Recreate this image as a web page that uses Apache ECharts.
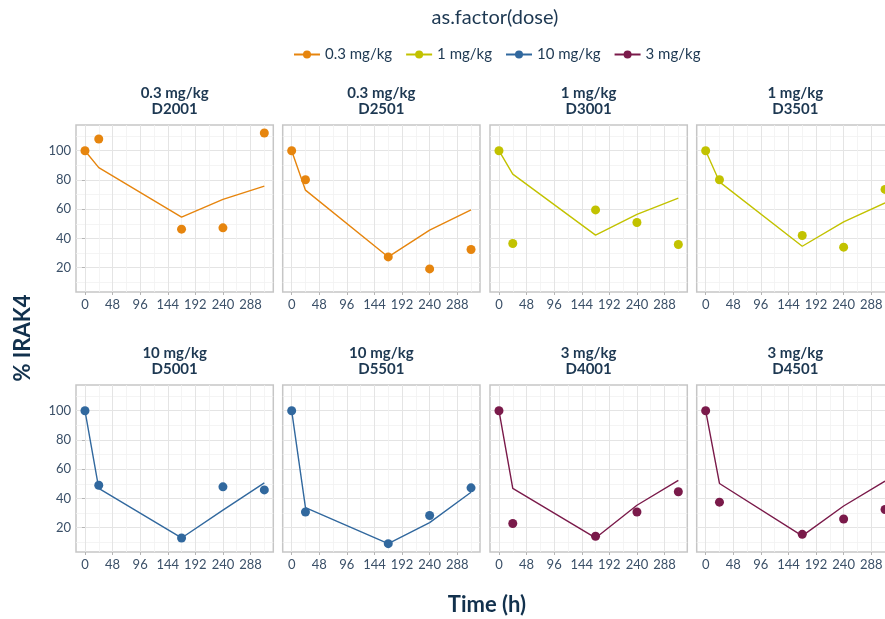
<!DOCTYPE html>
<html>
<head>
<meta charset="utf-8">
<script src="https://cdn.jsdelivr.net/npm/echarts@6/dist/echarts.min.js"></script>
<style>
html,body{margin:0;padding:0;background:#fff;}
#chart{width:885px;height:619px;}
</style>
</head>
<body>
<div id="chart"></div>
<script>
// ---- data ----
const times = [0, 24, 168, 240, 312];
const subjects = ['D2001', 'D2501', 'D3001', 'D3501', 'D5001', 'D5501', 'D4001', 'D4501'];
const subjectDose = ['0.3 mg/kg', '0.3 mg/kg', '1 mg/kg', '1 mg/kg', '10 mg/kg', '10 mg/kg', '3 mg/kg', '3 mg/kg'];
const doseLevels = ['0.3 mg/kg', '1 mg/kg', '10 mg/kg', '3 mg/kg'];

const obsD2001 = [100, 108.0, 46.3, 47.2, 112.1];
const obsD2501 = [100, 80.1, 27.3, 19.1, 32.4];
const obsD3001 = [100, 36.5, 59.5, 50.9, 35.8];
const obsD3501 = [100, 80.1, 42.0, 34.0, 73.5];
const obsD5001 = [100, 49.0, 12.9, 47.9, 45.8];
const obsD5501 = [100, 30.7, 9.0, 28.3, 47.2];
const obsD4001 = [100, 22.8, 14.1, 30.7, 44.5];
const obsD4501 = [100, 37.4, 15.4, 25.9, 32.4];

const predD2001 = [100, 88.4, 54.5, 66.7, 75.8];
const predD2501 = [100, 73.0, 27.3, 45.6, 59.5];
const predD3001 = [100, 84.0, 42.2, 56.4, 67.6];
const predD3501 = [100, 78.7, 34.6, 51.3, 64.3];
const predD5001 = [100, 46.8, 12.9, 32.0, 50.6];
const predD5501 = [100, 33.7, 9.0, 23.4, 44.2];
const predD4001 = [100, 46.8, 12.9, 35.3, 52.3];
const predD4501 = [100, 50.2, 14.3, 34.8, 51.8];

const xTicks = [0, 48, 96, 144, 192, 240, 288];
const xMinorTicks = [24, 72, 120, 168, 216, 264, 312];
const yTicks = [20, 40, 60, 80, 100];
const yMinorTicks = [10, 30, 50, 70, 90, 110];

const observed = [obsD2001, obsD2501, obsD3001, obsD3501, obsD5001, obsD5501, obsD4001, obsD4501];
const predicted = [predD2001, predD2501, predD3001, predD3501, predD5001, predD5501, predD4001, predD4501];

// ---- styling ----
const doseColors = {'0.3 mg/kg': '#E6850E', '1 mg/kg': '#C2C200', '10 mg/kg': '#31689E', '3 mg/kg': '#7A1A4A'};
const FONT = 'Lato, "Noto Sans", sans-serif';
const titleColor = '#1d3852';
const tickColor = '#3b5068';
const xRange = [-15.6, 327.6];
const yRange = [3.3, 117.6];
const colLeft = [76, 282.7, 490, 696.7];
const panelW = 197.3;
const rowTop = [125, 385];
const panelH = 167;

const grids = [], xAxes = [], yAxes = [], series = [], graphics = [];

subjects.forEach((subj, i) => {
  const r = Math.floor(i / 4), c = i % 4;
  const dose = subjectDose[i];
  const col = doseColors[dose];
  grids.push({left: colLeft[c], top: rowTop[r], width: panelW, height: panelH,
    show: true, borderColor: '#c6c6c6', borderWidth: 1.5, backgroundColor: '#fff',
    containLabel: false, outerBoundsMode: 'none'});
  // major x axis
  xAxes.push({gridIndex: i, type: 'value', min: xRange[0], max: xRange[1],
    axisLine: {show: false},
    axisTick: {show: true, length: 3, lineStyle: {color: '#b5b5b5'}, customValues: xTicks},
    axisLabel: {show: true, customValues: xTicks, color: tickColor, fontFamily: FONT, fontSize: 13, margin: 6},
    splitLine: {show: true, lineStyle: {color: '#e4e4e4', width: 1}}});
  // minor x axis
  xAxes.push({gridIndex: i, type: 'value', min: xRange[0], max: xRange[1],
    axisLine: {show: false},
    axisTick: {show: false, customValues: xMinorTicks},
    axisLabel: {show: false, customValues: xMinorTicks},
    splitLine: {show: true, lineStyle: {color: '#f1f1f1', width: 0.8}}});
  yAxes.push({gridIndex: i, type: 'value', min: yRange[0], max: yRange[1],
    axisLine: {show: false},
    axisTick: {show: c === 0, length: 3, lineStyle: {color: '#b5b5b5'}, customValues: yTicks},
    axisLabel: {show: c === 0, customValues: yTicks, color: tickColor, fontFamily: FONT, fontSize: 13, margin: 5},
    splitLine: {show: true, lineStyle: {color: '#e4e4e4', width: 1}}});
  yAxes.push({gridIndex: i, type: 'value', min: yRange[0], max: yRange[1],
    axisLine: {show: false},
    axisTick: {show: false, customValues: yMinorTicks},
    axisLabel: {show: false, customValues: yMinorTicks},
    splitLine: {show: true, lineStyle: {color: '#f1f1f1', width: 0.8}}});
  const xi = i * 2, yi = i * 2;
  series.push({type: 'line', name: dose, xAxisIndex: xi, yAxisIndex: yi,
    data: times.map((t, k) => [t, predicted[i][k]]),
    symbol: 'circle', symbolSize: 7, showSymbol: false, silent: true,
    itemStyle: {color: col}, lineStyle: {color: col, width: 1.4}, z: 3});
  series.push({type: 'scatter', name: dose, xAxisIndex: xi, yAxisIndex: yi,
    data: times.map((t, k) => [t, observed[i][k]]),
    symbol: 'circle', symbolSize: 9, silent: true,
    itemStyle: {color: col, opacity: 1}, z: 4});
  graphics.push({type: 'text', x: colLeft[c] + panelW / 2, y: rowTop[r] - 40,
    style: {text: dose + '\n' + subj, fill: titleColor, font: 'bold 15px ' + FONT,
      textAlign: 'center', textVerticalAlign: 'top', lineHeight: 16}});
});

graphics.push({type: 'text', x: 495, y: 18,
  style: {text: 'as.factor(dose)', fill: titleColor, font: '20px ' + FONT, textAlign: 'center', textVerticalAlign: 'middle'}});
graphics.push({type: 'text', x: 487, y: 605,
  style: {text: 'Time (h)', fill: '#12314d', font: 'bold 22px ' + FONT, textAlign: 'center', textVerticalAlign: 'middle'}});
graphics.push({type: 'text', x: 23, y: 338, rotation: Math.PI / 2,
  style: {text: '% IRAK4', fill: '#12314d', font: 'bold 22px ' + FONT, textAlign: 'center', textVerticalAlign: 'middle'}});

const chart = echarts.init(document.getElementById('chart'), null, {renderer: 'canvas'});
chart.setOption({
  animation: false,
  backgroundColor: '#fff',
  legend: {data: doseLevels, left: 293, top: 47, padding: 0, itemWidth: 26, itemHeight: 10, itemGap: 13,
    textStyle: {color: titleColor, fontFamily: FONT, fontSize: 15}, selectedMode: false},
  grid: grids,
  xAxis: xAxes,
  yAxis: yAxes,
  series: series,
  graphic: graphics
});
</script>
</body>
</html>
